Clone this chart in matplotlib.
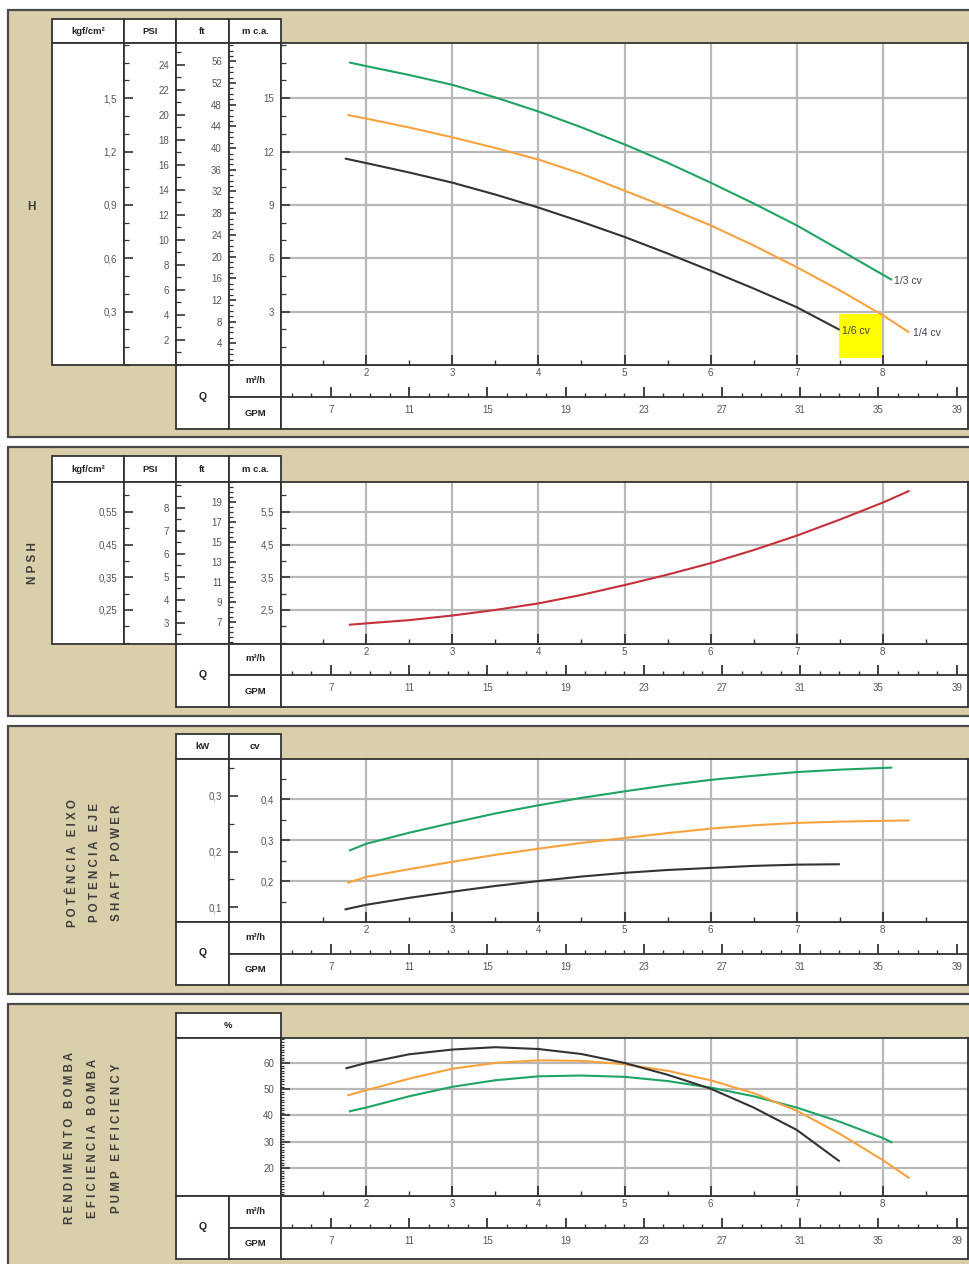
import matplotlib.pyplot as plt
from matplotlib.patches import Rectangle
from matplotlib.ticker import MultipleLocator

plt.rcParams['font.family'] = ['Liberation Sans', 'DejaVu Sans']

# ---- data (Q in m3/h) ----
q_13 = [1.81, 2, 2.5, 3, 3.5, 4, 4.5, 5, 5.5, 6, 6.5, 7, 7.5, 8.10]
q_14 = [1.79, 2, 2.5, 3, 3.5, 4, 4.5, 5, 5.5, 6, 6.5, 7, 7.5, 8, 8.30]
q_16 = [1.76, 2, 2.5, 3, 3.5, 4, 4.5, 5, 5.5, 6, 6.5, 7, 7.49]

h_13 = [17.0, 16.8, 16.3, 15.75, 15.04, 14.25, 13.36, 12.4, 11.37, 10.25, 9.08, 7.85, 6.47, 4.8]
h_14 = [14.05, 13.85, 13.35, 12.8, 12.2, 11.55, 10.75, 9.8, 8.85, 7.85, 6.72, 5.5, 4.2, 2.8, 1.85]
h_16 = [11.6, 11.35, 10.82, 10.25, 9.58, 8.85, 8.05, 7.2, 6.27, 5.3, 4.3, 3.25, 2.0]

q_npsh = [1.81, 2, 2.5, 3, 3.5, 4, 4.5, 5, 5.5, 6, 6.5, 7, 7.5, 8, 8.30]
npsh = [2.05, 2.09, 2.19, 2.33, 2.50, 2.70, 2.96, 3.26, 3.58, 3.93, 4.33, 4.77, 5.26, 5.78, 6.13]

p_13 = [0.275, 0.291, 0.318, 0.342, 0.365, 0.385, 0.403, 0.419, 0.434, 0.447, 0.457, 0.466,
        0.472, 0.477]
p_14 = [0.196, 0.210, 0.229, 0.247, 0.264, 0.279, 0.293, 0.305, 0.317, 0.328, 0.336, 0.342,
        0.345, 0.347, 0.348]
p_16 = [0.131, 0.142, 0.159, 0.174, 0.188, 0.200, 0.211, 0.220, 0.227, 0.232, 0.237, 0.240,
        0.241]

qe_13 = [1.81, 2, 2.5, 3, 3.5, 4, 4.5, 5, 5.5, 6, 6.5, 7, 7.5, 8, 8.10]
e_13 = [41.6, 43.0, 47.3, 50.9, 53.4, 54.9, 55.2, 54.7, 53.1, 50.6, 47.3, 43.0, 37.6, 31.4, 29.8]
qe_14 = [1.79, 2, 2.5, 3, 3.5, 4, 4.5, 5, 5.5, 6, 6.5, 7, 7.5, 8, 8.30]
e_14 = [47.7, 49.6, 54.0, 57.8, 60.0, 61.0, 60.8, 59.5, 57.0, 53.4, 48.5, 41.8, 33.0, 23.0, 16.3]
qe_16 = [1.77, 2, 2.5, 3, 3.5, 4, 4.5, 5, 5.5, 6, 6.5, 7, 7.49]
e_16 = [58.0, 60.0, 63.3, 65.1, 66.0, 65.3, 63.4, 60.0, 55.5, 50.2, 43.0, 34.5, 22.7]

curve_names = ['1/3 cv', '1/4 cv', '1/6 cv']

# scales / ticks
gpm_ticks = [7, 11, 15, 19, 23, 27, 31, 35, 39]
h_m_ticks = [3, 6, 9, 12, 15]
h_kgf_ticks = [0.3, 0.6, 0.9, 1.2, 1.5]
h_psi_ticks = [2, 4, 6, 8, 10, 12, 14, 16, 18, 20, 22, 24]
h_ft_ticks = [4, 8, 12, 16, 20, 24, 28, 32, 36, 40, 44, 48, 52, 56]
n_m_ticks = [2.5, 3.5, 4.5, 5.5]
n_kgf_ticks = [0.25, 0.35, 0.45, 0.55]
n_psi_ticks = [3, 4, 5, 6, 7, 8]
n_ft_ticks = [7, 9, 11, 13, 15, 17, 19]
p_cv_ticks = [0.2, 0.3, 0.4]
p_kw_ticks = [0.1, 0.2, 0.3]
e_ticks = [20, 30, 40, 50, 60]

GPM_M3H = 0.227125
PSI_M = 0.70307
FT_M = 0.3048
KW_CV = 0.7355

W, H = 969, 1264
fig = plt.figure(figsize=(W / 100, H / 100), dpi=100)

TAN = '#d9d0ab'
EDGE = '#333333'
GRID = '#b8b8b8'
TXT = '#555555'
LAB = '#3d3d3d'
GREEN, ORANGE, BLACK, RED = '#1fa463', '#f7a23e', '#333333', '#c5303a'
XL = (1.01, 8.99)
X0, X1 = 281, 968
TS = 7


def fr(x0, y0, x1, y1):
    return [x0 / W, 1 - y1 / H, (x1 - x0) / W, (y1 - y0) / H]


def box(x0, y0, x1, y1, fc='white', ec=EDGE, lw=1.3, z=-1):
    fig.add_artist(Rectangle((x0 / W, 1 - y1 / H), (x1 - x0) / W, (y1 - y0) / H,
                             transform=fig.transFigure, fc=fc, ec=ec, lw=lw, zorder=z))


def txt(x, y, s, size=6.8, bold=True, color='#222222', rot=0):
    fig.text(x / W, 1 - y / H, s, ha='center', va='center', fontsize=size,
             fontweight='bold' if bold else 'normal', color=color, rotation=rot)


def comma(v):
    return ('%g' % v).replace('.', ',')


def yscale(a, ticks, minor, lim, major_len=6.5, minor_len=3.5, pad=5):
    a.set_ylim(lim)
    a.set_yticks(ticks, [comma(v) for v in ticks])
    a.yaxis.set_minor_locator(MultipleLocator(minor))
    a.tick_params(axis='y', which='major', direction='in', length=major_len, width=1.2,
                  color=EDGE, labelsize=TS, labelcolor=TXT, pad=pad)
    a.tick_params(axis='y', which='minor', direction='in', length=minor_len, width=0.9,
                  color=EDGE)


def scale_axis(x0, x1, body, ticks, minor, lim, **kw):
    a = fig.add_axes(fr(x0, body[0], x1, body[1]))
    a.set_facecolor('none')
    for s in a.spines.values():
        s.set_visible(False)
    a.set_xticks([])
    yscale(a, ticks, minor, lim, **kw)
    return a


def panel(top, bot, hdr, body, q, cols, heads):
    box(8, top, 1010, bot, fc=TAN, ec='#4a4a4a', lw=1.6, z=-2)
    for x0, x1, hd in zip(cols[:-1], cols[1:], heads):
        box(x0, hdr[0], x1, hdr[1])
        box(x0, hdr[1], x1, body[1])
        txt((x0 + x1) / 2, (hdr[0] + hdr[1]) / 2, hd)
    box(176, q[0], 229, q[2])
    box(229, q[0], 281, q[1])
    box(229, q[1], 281, q[2])
    box(281, q[0], X1, q[2])
    txt(202.5, (q[0] + q[2]) / 2, 'Q', size=7.5)
    txt(255, (q[0] + q[1]) / 2 - 1, 'm³/h')
    txt(255, (q[1] + q[2]) / 2, 'GPM')

    ax = fig.add_axes(fr(X0, body[0], X1, body[1]))
    ax.set_xlim(XL)
    ax.xaxis.set_major_locator(MultipleLocator(1))
    ax.xaxis.set_minor_locator(MultipleLocator(0.5))
    ax.tick_params(axis='x', which='major', direction='in', length=7, width=1.3,
                   color=EDGE, labelsize=TS, labelcolor=TXT, pad=2.5)
    ax.tick_params(axis='x', which='minor', direction='in', length=3.5, width=1,
                   color=EDGE)
    ax.grid(True, which='major', color=GRID, lw=1.6)
    ax.set_axisbelow(True)
    for s in ax.spines.values():
        s.set_color(EDGE)
        s.set_linewidth(1.3)

    g = fig.add_axes(fr(X0, q[0], X1, q[1]))
    g.set_facecolor('none')
    for k, s in g.spines.items():
        s.set_visible(k == 'bottom')
    g.spines['bottom'].set_color(EDGE)
    g.spines['bottom'].set_linewidth(1.3)
    g.set_xlim(XL[0] / GPM_M3H, XL[1] / GPM_M3H)
    g.set_yticks([])
    g.set_xticks(gpm_ticks)
    g.xaxis.set_minor_locator(MultipleLocator(1))
    g.tick_params(axis='x', which='major', direction='in', length=7, width=1.3,
                  color=EDGE, labelsize=TS, labelcolor=TXT, pad=6)
    g.tick_params(axis='x', which='minor', direction='in', length=3, width=1,
                  color=EDGE)
    return ax


# ---------- panel 1 : H ----------
body = (43, 365)
ax1 = panel(10, 437, (19, 43), body, (365, 397, 429), [52, 124, 176, 229, 281],
            ['kgf/cm²', 'PSI', 'ft', 'm c.a.'])
hl = (0, 18.1)
yscale(ax1, h_m_ticks, 1, hl)
scale_axis(124, 176, body, h_kgf_ticks, 0.1, (hl[0] / 10, hl[1] / 10))
scale_axis(176, 229, body, h_psi_ticks, 1, (hl[0] / PSI_M, hl[1] / PSI_M))
scale_axis(229, 281, body, h_ft_ticks, 1, (hl[0] / FT_M, hl[1] / FT_M),
           major_len=5, minor_len=3)
for qq, hh, c, name, dx in [(q_13, h_13, GREEN, curve_names[0], 2),
                            (q_14, h_14, ORANGE, curve_names[1], 3),
                            (q_16, h_16, BLACK, curve_names[2], 2)]:
    ax1.plot(qq, hh, color=c, lw=1.5, solid_capstyle='round')
    if c == BLACK:
        ax1.add_patch(Rectangle((qq[-1], hh[-1] - 1.6), 0.5, 2.45, fc='#ffff00',
                                ec='none', zorder=1.5))
    ax1.annotate(name, (qq[-1], hh[-1]), xytext=(dx, -1), textcoords='offset points',
                 ha='left', va='center', fontsize=7.5, color='#3e4452', zorder=4)
txt(31, 207, 'H', size=8.5, color=LAB)

# ---------- panel 2 : NPSH ----------
body = (482, 644)
ax2 = panel(447, 716, (456, 482), body, (644, 675, 707), [52, 124, 176, 229, 281],
            ['kgf/cm²', 'PSI', 'ft', 'm c.a.'])
nl = (1.46, 6.41)
yscale(ax2, n_m_ticks, 0.5, nl)
scale_axis(124, 176, body, n_kgf_ticks, 0.05, (nl[0] / 10, nl[1] / 10))
scale_axis(176, 229, body, n_psi_ticks, 0.5, (nl[0] / PSI_M, nl[1] / PSI_M))
scale_axis(229, 281, body, n_ft_ticks, 0.5, (nl[0] / FT_M, nl[1] / FT_M),
           major_len=5, minor_len=3)
ax2.plot(q_npsh, npsh, color=RED, lw=1.5)
txt(33, 563, 'N P S H', size=8.5, color=LAB, rot=90)

# ---------- panel 3 : power ----------
body = (759, 922)
ax3 = panel(726, 994, (734, 759), body, (922, 954, 985), [176, 229, 281], ['kW', 'cv'])
pl = (0.1, 0.498)
yscale(ax3, p_cv_ticks, 0.05, pl)
scale_axis(229, 281, body, p_kw_ticks, 0.05, (pl[0] * KW_CV, pl[1] * KW_CV))
ax3.plot(q_13, p_13, color=GREEN, lw=1.5)
ax3.plot(q_14, p_14, color=ORANGE, lw=1.5)
ax3.plot(q_16, p_16, color=BLACK, lw=1.5)
for x, s in [(73, 'P O T Ê N C I A   E I X O'), (95, 'P O T E N C I A   E J E'),
             (117, 'S H A F T   P O W E R')]:
    txt(x, 863, s, size=8.3, color=LAB, rot=90)

# ---------- panel 4 : efficiency ----------
body = (1038, 1196)
ax4 = panel(1004, 1275, (1013, 1038), body, (1196, 1228, 1259), [176, 281], ['%'])
yscale(ax4, e_ticks, 1, (9.3, 69.5), minor_len=2.5)
ax4.plot(qe_13, e_13, color=GREEN, lw=1.5)
ax4.plot(qe_14, e_14, color=ORANGE, lw=1.5)
ax4.plot(qe_16, e_16, color=BLACK, lw=1.5)
for x, s in [(70, 'R E N D I M E N T O   B O M B A'), (93, 'E F I C I E N C I A   B O M B A'),
             (117, 'P U M P   E F F I C I E N C Y')]:
    txt(x, 1138, s, size=8.3, color=LAB, rot=90)

fig.savefig('out.png', dpi=100)
